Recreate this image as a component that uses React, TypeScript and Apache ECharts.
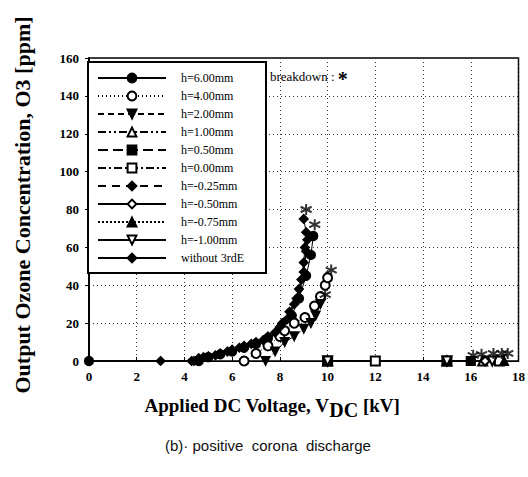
import React, { useEffect, useRef } from "react";
import * as echarts from "echarts";

const xMin = 0, xMax = 18, xStep = 2;
const yMin = 0, yMax = 160, yStep = 20;

const legendNames = [
  "h=6.00mm", "h=4.00mm", "h=2.00mm", "h=1.00mm", "h=0.50mm", "h=0.00mm",
  "h=-0.25mm", "h=-0.50mm", "h=-0.75mm", "h=-1.00mm", "without 3rdE",
];

const h600 = [[0, 0], [4.6, 0], [5.0, 2], [5.5, 3.5], [6.0, 5], [6.5, 7], [7.0, 9], [7.5, 12], [8.0, 16], [8.5, 24], [8.8, 33], [9.1, 45], [9.3, 56], [9.4, 66]];
const h400 = [[6.5, 0], [7.0, 4], [7.5, 8], [8.0, 13], [8.2, 16], [8.6, 20], [9.05, 23], [9.45, 29], [9.7, 34], [9.9, 40], [10.0, 44]];
const h200 = [[7.4, 0], [7.8, 5], [8.2, 10], [8.6, 13], [9.0, 17], [9.3, 20], [9.5, 24], [9.7, 30]];
const h100 = [[10, 0], [15, 0], [16.5, 0]];
const h050 = [[10, 0], [16, 0]];
const h000 = [[10, 0], [12, 0], [15, 0], [17.2, 0]];
const hm025 = [[4.4, 0], [4.8, 2], [5.3, 3], [5.8, 5], [6.3, 7], [6.8, 9], [7.3, 11], [7.8, 15], [8.1, 20], [8.4, 26], [8.7, 33], [8.9, 43], [9.0, 52], [9.05, 60], [9.1, 68], [9.0, 75]];
const hm050 = [[10, 0], [15, 0], [16.6, 0]];
const hm075 = [[10, 0], [15, 0], [17.4, 0]];
const hm100 = [[10, 0], [15, 0], [16.9, 0]];
const without3rdE = [[0, 0], [3, 0], [4.3, 0], [4.6, 1.5], [5.0, 2.5], [5.5, 4], [6.0, 6], [6.5, 8], [7.0, 10], [7.5, 13], [8.0, 18], [8.3, 22], [8.6, 30], [8.8, 38], [9.0, 47], [9.1, 58], [9.15, 64]];
const breakdownPts = [[9.1, 80], [9.46, 72], [10.15, 48], [9.9, 35], [16.1, 3], [16.45, 3.5], [16.95, 4], [17.3, 4], [17.55, 4]];

const seriesData = [h600, h400, h200, h100, h050, h000, hm025, hm050, hm075, hm100, without3rdE];
const symbols = ["circle", "emptyCircle", "triangle", "emptyTriangle", "rect", "emptyRect", "diamond", "emptyDiamond", "triangle", "emptyTriangle", "diamond"];
const rotations = [0, 0, 180, 0, 0, 0, 0, 0, 0, 180, 0];
const dashes: any[] = ["solid", [1, 3], [6, 4], [8, 3, 2, 3, 2, 3], [10, 5], [8, 3, 2, 3], [8, 6], "solid", [2, 2], "solid", "solid"];

const serif = "Liberation Serif";

export default function App() {
  const ref = useRef<HTMLDivElement>(null);
  useEffect(() => {
    const chart = echarts.init(ref.current!, null, { renderer: "svg" });
    const series: any[] = legendNames.map((name, i) => ({
      name,
      type: "line",
      data: seriesData[i],
      symbol: symbols[i],
      symbolRotate: rotations[i],
      symbolSize: 9,
      showAllSymbol: true,
      lineStyle: { color: "#000", width: i === 10 ? 1.5 : 1, type: dashes[i] },
      itemStyle: { color: "#000", borderColor: "#000", borderWidth: 1.2 },
      z: 3,
    }));
    series.push({
      name: "breakdown",
      type: "scatter",
      data: breakdownPts,
      symbol: "path://M5 0L5 10M0.67 2.5L9.33 7.5M9.33 2.5L0.67 7.5",
      symbolSize: 11,
      itemStyle: { color: "#000", borderColor: "#000", borderWidth: 2 },
      z: 4,
    });
    chart.setOption({
      animation: false,
      backgroundColor: "#fff",
      grid: { left: 89, right: 6, top: 58, bottom: 116, show: true, borderColor: "#000", borderWidth: 1.5, backgroundColor: "transparent" },
      legend: {
        data: legendNames,
        orient: "vertical",
        left: 88,
        top: 62,
        itemWidth: 68,
        itemHeight: 11,
        itemGap: 4,
        padding: [9, 22, 8, 9],
        borderColor: "#000",
        borderWidth: 2,
        backgroundColor: "#fff",
        selectedMode: false,
        textStyle: { fontFamily: serif, fontSize: 12, color: "#000", lineHeight: 14, padding: [0, 0, 0, 10] },
      },
      xAxis: {
        type: "value",
        min: xMin, max: xMax, interval: xStep,
        axisLine: { show: true, onZero: false, lineStyle: { color: "#000", width: 1 } },
        axisTick: { show: true, inside: true, length: 4, lineStyle: { color: "#000" } },
        axisLabel: { fontFamily: serif, fontWeight: "bold", fontSize: 13, color: "#000", margin: 9 },
        splitLine: { show: true, lineStyle: { color: "#333", type: [1, 3], width: 1 } },
      },
      yAxis: {
        type: "value",
        min: yMin, max: yMax, interval: yStep,
        axisLine: { show: true, lineStyle: { color: "#000", width: 2 } },
        axisTick: { show: true, inside: false, length: 4, lineStyle: { color: "#000" } },
        axisLabel: { fontFamily: serif, fontWeight: "bold", fontSize: 13, color: "#000", margin: 10 },
        splitLine: { show: true, lineStyle: { color: "#333", type: [1, 3], width: 1 } },
      },
      graphic: [
        {
          type: "text", x: 22, y: 205, rotation: Math.PI / 2,
          style: { text: "Output Ozone Concentration, O3 [ppm]", fill: "#000", font: `bold 22px "${serif}"`, textAlign: "center", textVerticalAlign: "middle" },
        },
        {
          type: "text", x: 272, y: 405,
          style: {
            text: "Applied DC Voltage, V{sub|DC} [kV]",
            fill: "#000", font: `bold 19px "${serif}"`, textAlign: "center", textVerticalAlign: "middle",
            rich: { sub: { fontFamily: serif, fontWeight: "bold", fontSize: 20, padding: [10, 0, 0, 0], fill: "#000" } },
          },
        },
        {
          type: "text", x: 268, y: 445,
          style: { text: "(b)· positive  corona  discharge", fill: "#111", font: `15px "Liberation Sans"`, textAlign: "center", textVerticalAlign: "middle" },
        },
        {
          type: "text", x: 270, y: 76,
          style: {
            text: "breakdown : {star|*}", fill: "#000", font: `13px "${serif}"`, textAlign: "left", textVerticalAlign: "middle",
            rich: { star: { fontFamily: serif, fontWeight: "bold", fontSize: 20, padding: [6, 0, 0, 0], fill: "#000" } },
          },
        },
      ],
      series,
    });
    return () => chart.dispose();
  }, []);
  return <div ref={ref} style={{ position: "fixed", left: 0, top: 0, width: 528, height: 477 }} />;
}
